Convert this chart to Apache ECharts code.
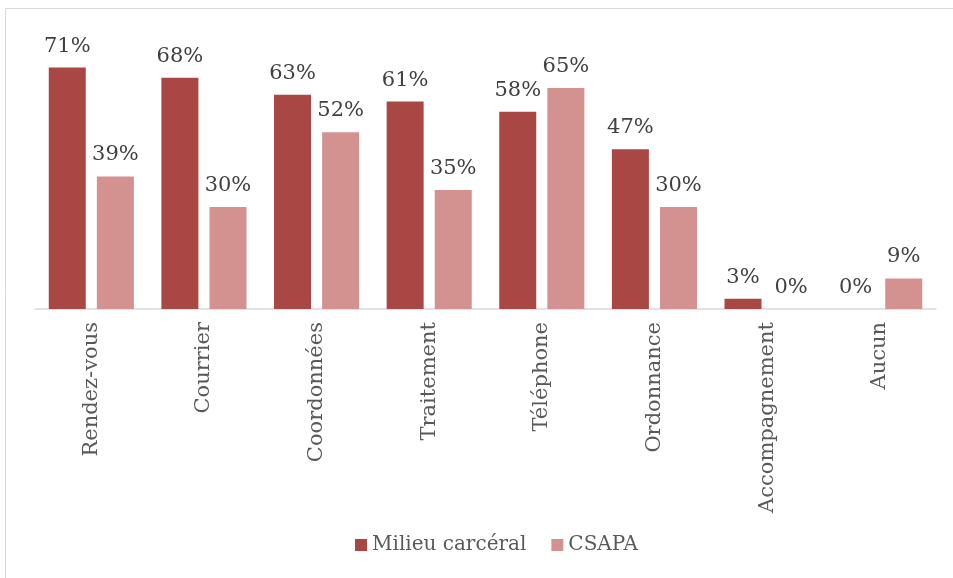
<!DOCTYPE html>
<html>
<head>
<meta charset="utf-8">
<style>
  html, body { margin: 0; padding: 0; background: #fff; }
  #chart { width: 953px; height: 578px; }
</style>
<script src="https://cdn.jsdelivr.net/npm/echarts@6/dist/echarts.min.js"></script>
</head>
<body>
<div id="chart"></div>
<script>
// Categories and percentages per setting
const categories = ['Rendez-vous', 'Courrier', 'Coordonnées', 'Traitement', 'Téléphone', 'Ordonnance', 'Accompagnement', 'Aucun'];
const milieuCarceral = [71, 68, 63, 61, 58, 47, 3, 0];
const csapa = [39, 30, 52, 35, 65, 30, 0, 9];
const seriesNames = ['Milieu carcéral', 'CSAPA'];

const FONT = 'DejaVu Serif';
const chart = echarts.init(document.getElementById('chart'));

const labelStyle = {
  show: true,
  position: 'top',
  distance: 11,
  formatter: p => p.value + '%',
  fontFamily: FONT,
  fontSize: 21,
  color: '#404040'
};

chart.setOption({
  backgroundColor: '#ffffff',
  animation: false,
  graphic: [{
    type: 'rect',
    shape: { x: 5.5, y: 8.5, width: 1000, height: 1000 },
    style: { fill: 'none', stroke: '#d9d9d9', lineWidth: 1 },
    silent: true
  }],
  grid: { left: 35, right: 17, top: 37, bottom: 269 },
  legend: {
    bottom: 18,
    left: 350,
    icon: 'rect',
    itemWidth: 12,
    itemHeight: 12,
    itemGap: 25,
    textStyle: { fontFamily: FONT, fontSize: 20, color: '#595959' },
    data: seriesNames
  },
  xAxis: {
    type: 'category',
    data: categories,
    axisLine: { lineStyle: { color: '#d9d9d9', width: 1.5 } },
    axisTick: { show: false },
    axisLabel: {
      rotate: 90,
      margin: 13,
      fontFamily: FONT,
      fontSize: 21,
      color: '#595959',
      interval: 0
    }
  },
  yAxis: {
    type: 'value',
    min: 0,
    max: 80,
    show: false,
    splitLine: { show: false }
  },
  series: [
    {
      name: seriesNames[0],
      type: 'bar',
      data: milieuCarceral,
      barWidth: 37,
      barGap: '30%',
      itemStyle: { color: '#a84744' },
      label: labelStyle
    },
    {
      name: seriesNames[1],
      type: 'bar',
      data: csapa,
      barWidth: 37,
      barGap: '30%',
      itemStyle: { color: '#d39190' },
      label: labelStyle
    }
  ]
});
</script>
</body>
</html>
